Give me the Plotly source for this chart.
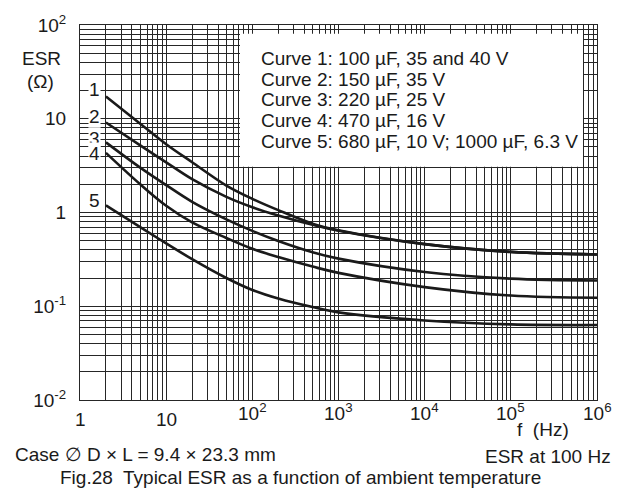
import math
import plotly.graph_objects as go

# ---- data ----
freq = [2, 5, 10, 20, 50, 100, 200, 500, 1000, 1e4, 1e5, 1e6]
curve1 = [17.3, 8.85, 5.35, 3.44, 1.94, 1.40, 1.06, 0.76, 0.645, 0.46, 0.38, 0.357]
curve2 = [9.12, 5.21, 3.43, 2.27, 1.47, 1.14, 0.93, 0.74, 0.64, 0.46, 0.38, 0.357]
curve3 = [5.6, 3.01, 1.96, 1.30, 0.845, 0.637, 0.497, 0.377, 0.322, 0.232, 0.197, 0.188]
curve4 = [4.33, 2.0, 1.18, 0.785, 0.535, 0.41, 0.335, 0.265, 0.227, 0.16, 0.13, 0.123]
curve5 = [1.19, 0.698, 0.468, 0.318, 0.20, 0.149, 0.121, 0.098, 0.086, 0.0705, 0.064, 0.063]
curve_names = ["1", "2", "3", "4", "5"]
curves = [curve1, curve2, curve3, curve4, curve5]

x_tickvals = [1, 10, 100, 1e3, 1e4, 1e5, 1e6]
x_ticktext = ["1", "10", "10<sup>2</sup>", "10<sup>3</sup>", "10<sup>4</sup>", "10<sup>5</sup>", "10<sup>6</sup>"]
y_tickvals = [0.01, 0.1, 1, 10, 100]
y_ticktext = ["10<sup>-2</sup>", "10<sup>-1</sup>", "1", "10", "10<sup>2</sup>"]

legend_lines = [
    "Curve 1: 100 µF, 35 and 40 V",
    "Curve 2: 150 µF, 35 V",
    "Curve 3: 220 µF, 25 V",
    "Curve 4: 470 µF, 16 V",
    "Curve 5: 680 µF, 10 V; 1000 µF, 6.3 V",
]

W, H = 624, 495
L, R, T, B = 80, 27, 19, 95
PW, PH = W - L - R, H - T - B

def px(x):
    return (x - L) / PW

def py(y):
    return (H - B - y) / PH

FONT = "Liberation Sans, Arial, Helvetica, sans-serif"
FS = 19
INK = "#1a1a1a"
GRID = "#262626"

fig = go.Figure()
for name, vals in zip(curve_names, curves):
    fig.add_trace(go.Scatter(
        x=freq, y=vals, mode="lines", name="Curve " + name,
        line=dict(color=INK, width=2.6, shape="spline", smoothing=1.0),
        showlegend=False, hoverinfo="skip",
    ))

minor_x = [m * 10 ** d for d in range(0, 6) for m in range(2, 10)]
minor_y = [m * 10 ** d for d in range(-2, 2) for m in range(2, 10)]

fig.update_xaxes(
    type="log", range=[0, 6],
    tickvals=x_tickvals, showticklabels=False,
    showgrid=True, gridcolor=GRID, gridwidth=1,
    minor=dict(tickvals=minor_x, showgrid=True, gridcolor=GRID, gridwidth=1, ticks=""),
    showline=True, linecolor=GRID, linewidth=1, mirror=True,
    ticks="", zeroline=False,
)
fig.update_yaxes(
    type="log", range=[-2, 2],
    tickvals=y_tickvals, ticktext=y_ticktext,
    showgrid=True, gridcolor=GRID, gridwidth=1,
    minor=dict(tickvals=minor_y, showgrid=True, gridcolor=GRID, gridwidth=1, ticks=""),
    showline=True, linecolor=GRID, linewidth=1, mirror=True,
    ticks="", ticklabelstandoff=9,
    tickfont=dict(family=FONT, size=FS, color=INK),
    zeroline=False,
)

# white box behind the curve descriptions
fig.add_shape(type="rect", xref="paper", yref="paper",
              x0=px(240), x1=px(583), y0=py(163), y1=py(28),
              fillcolor="white", line=dict(width=0), layer="above")

ann = []
# x tick labels (labels with exponents sit a little higher, as in the reference)
for v, t in zip(x_tickvals, x_ticktext):
    ann.append(dict(text=t, x=math.log10(v), xref="x", yref="paper",
                    y=py(412 if "sup" in t else 420), xanchor="center", yanchor="middle",
                    showarrow=False, font=dict(family=FONT, size=FS, color=INK)))

for i, line in enumerate(legend_lines):
    ann.append(dict(text=line, xref="paper", yref="paper", x=px(259), y=py(53 + 21 * i),
                    xanchor="left", yanchor="middle", showarrow=False,
                    font=dict(family=FONT, size=FS, color=INK)))

# curve number labels next to the curve starts
label_shift = [7, 6, 4, -1, 5]
for name, vals, sh in zip(curve_names, curves, label_shift):
    ann.append(dict(text=name, x=0.17, y=math.log10(vals[0]), xref="x", yref="y",
                    xanchor="center", yanchor="middle", showarrow=False, yshift=sh,
                    bgcolor="white", borderpad=0,
                    font=dict(family=FONT, size=FS, color=INK)))

extra = [
    dict(text="ESR", x=px(41), y=py(53)),
    dict(text="(Ω)", x=px(40), y=py(76)),
    dict(text="f  (Hz)", x=px(543), y=py(430)),
    dict(text="Case ∅ D × L = 9.4 × 23.3 mm", x=px(13), y=py(455), xanchor="left"),
    dict(text="ESR at 100 Hz", x=px(613), y=py(457), xanchor="right"),
    dict(text="Fig.28  Typical ESR as a function of ambient temperature", x=px(58), y=py(479), xanchor="left"),
]
for a in extra:
    a.setdefault("xanchor", "center")
    a.update(xref="paper", yref="paper", yanchor="middle", showarrow=False,
             font=dict(family=FONT, size=FS, color=INK))
ann += extra

fig.update_layout(
    width=W, height=H,
    margin=dict(l=L, r=R, t=T, b=B),
    paper_bgcolor="white", plot_bgcolor="white",
    annotations=ann,
)

fig.write_html("out.html")
